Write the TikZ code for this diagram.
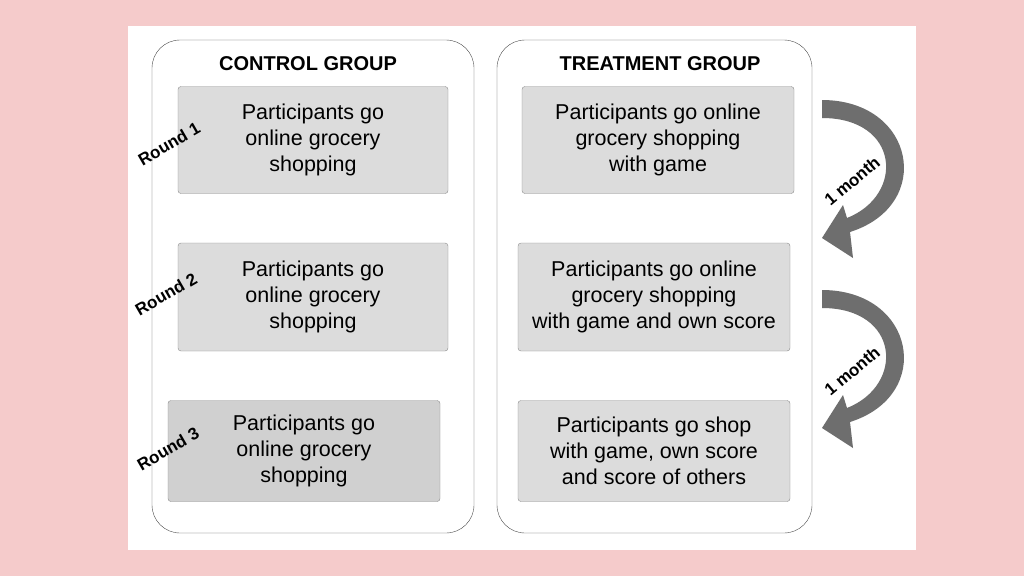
\documentclass[tikz,border=0pt]{standalone}
\usepackage{fontspec}
\setmainfont{Liberation Sans}
\usetikzlibrary{positioning}
\definecolor{bgpink}{HTML}{F5CBCB}
\definecolor{boxgray}{HTML}{DCDCDC}
\definecolor{boxdark}{HTML}{D0D0D0}
\definecolor{arrowgray}{HTML}{6E6E6E}
\begin{document}
\begin{tikzpicture}[x=1pt,y=-1pt,
   group/.style={draw=black!70,rounded corners=28pt,thin},
   stage/.style={draw=black!45,fill=boxgray,rounded corners=3pt,align=center,
     font=\fontsize{21.5}{26}\selectfont,inner sep=0pt},
   roundlbl/.style={font=\bfseries\fontsize{17}{19}\selectfont,rotate=30},
   monthlbl/.style={font=\bfseries\fontsize{17}{19}\selectfont,rotate=40},
   title/.style={font=\bfseries\fontsize{20}{22}\selectfont}]
 \fill[bgpink] (0,0) rectangle (1024,576);
 \fill[white] (128,26) rectangle (916,550);
 \draw[group] (152,40) rectangle (474,533);
 \draw[group] (497,40) rectangle (812,533);
 \node[title] (ctitle) at (308,64) {CONTROL GROUP};
 \node[title] (ttitle) at (660,64) {TREATMENT GROUP};
 % control group
 \node[stage,minimum width=270pt,minimum height=107pt] (c1) at (313,140)
   {Participants go\\online grocery\\shopping};
 \node[stage,minimum width=270pt,minimum height=108pt] (c2) at (313,297)
   {Participants go\\online grocery\\shopping};
 \node[stage,fill=boxdark,minimum width=272pt,minimum height=101pt] (c3) at (304,451)
   {Participants go\\online grocery\\shopping};
 \node[roundlbl] (r1) at (169,144) {Round 1};
 \node[roundlbl] (r2) at (166,294) {Round 2};
 \node[roundlbl] (r3) at (168,449) {Round 3};
 % treatment group
 \node[stage,minimum width=272pt,minimum height=107pt] (t1) at (658,140)
   {Participants go online\\grocery shopping\\with game};
 \node[stage,minimum width=272pt,minimum height=108pt] (t2) at (654,297)
   {Participants go online\\grocery shopping\\with game and own score};
 \node[stage,minimum width=272pt,minimum height=101pt] (t3) at (654,451)
   {Participants go shop\\with game, own score\\and score of others};
 % curved arrows
 \foreach \dy/\name in {0/m1,190/m2}{
  \begin{scope}[yshift=-\dy pt]
   \fill[arrowgray] (822,100) .. controls (915,100) and (935,205) .. (850,232)
     -- (853,258) -- (822,238) -- (843,205) -- (847,218)
     .. controls (905,195) and (900,118) .. (822,118) -- cycle;
   \node[monthlbl] (\name) at (852,181) {1 month};
  \end{scope}
 }
\end{tikzpicture}
\end{document}
